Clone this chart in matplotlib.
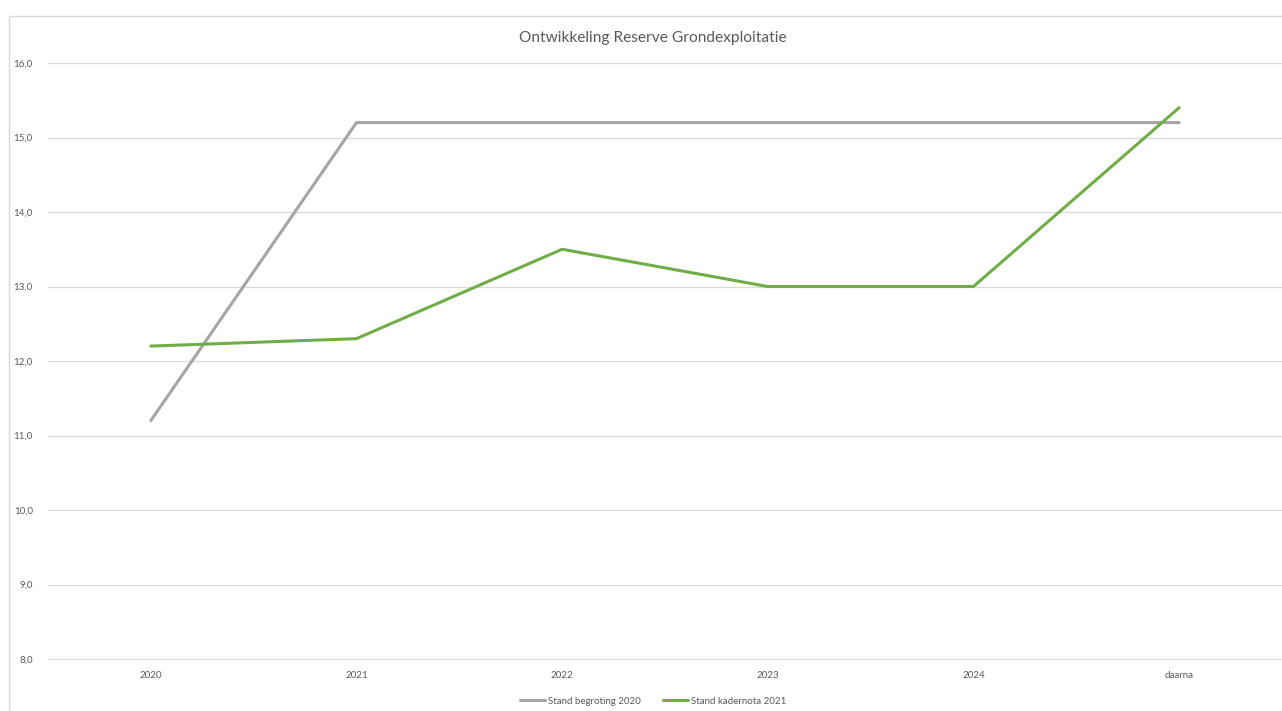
import matplotlib.pyplot as plt
from matplotlib.patches import Rectangle

categories = ["2020", "2021", "2022", "2023", "2024", "daarna"]
begroting_2020 = [11.2, 15.2, 15.2, 15.2, 15.2, 15.2]
kadernota_2021 = [12.2, 12.3, 13.5, 13.0, 13.0, 15.4]

plt.rcParams['font.family'] = ['Lato', 'DejaVu Sans']
txt = "#595959"

fig = plt.figure(figsize=(12.82, 7.11), dpi=100)
# chart border (light grey, like the Excel chart area)
fig.patches.append(Rectangle((9 / 1282, -0.1), 1.2, (711 - 16) / 711 + 0.1,
                             transform=fig.transFigure, fill=False,
                             edgecolor="#D9D9D9", linewidth=1))

ax = fig.add_axes([48 / 1282, (711 - 659) / 711, 1 - 48 / 1282, (659 - 63) / 711])
x = list(range(len(categories)))
ax.plot(x, begroting_2020, color="#A5A5A5", linewidth=2.2, label="Stand begroting 2020",
        solid_capstyle="round")
ax.plot(x, kadernota_2021, color="#70AD47", linewidth=2.2, label="Stand kadernota 2021",
        solid_capstyle="round")

ax.set_xlim(-0.5, len(categories) - 0.5)
ax.set_ylim(8, 16)
ax.set_yticks(range(8, 17))
ax.set_yticklabels([f"{v},0" for v in range(8, 17)])
ax.set_xticks(x)
ax.set_xticklabels(categories)
ax.tick_params(length=0, labelsize=7, colors=txt)
ax.tick_params(axis="y", pad=11)
ax.tick_params(axis="x", pad=9)
ax.grid(axis="y", color="#D9D9D9", linewidth=0.9)
ax.set_axisbelow(True)
for s in ax.spines.values():
    s.set_visible(False)
ax.spines["bottom"].set_visible(True)
ax.spines["bottom"].set_color("#D9D9D9")

fig.text(653 / 1282, (711 - 38) / 711, "Ontwikkeling Reserve Grondexploitatie",
         ha="center", va="center", fontsize=11.2, color=txt)

fig.legend(loc="center", bbox_to_anchor=(653 / 1282, (711 - 701) / 711), ncol=2,
           frameon=False, fontsize=7, labelcolor=txt, handlelength=2.6,
           handletextpad=0.3, columnspacing=2.3)

fig.savefig("out.png", dpi=100)
